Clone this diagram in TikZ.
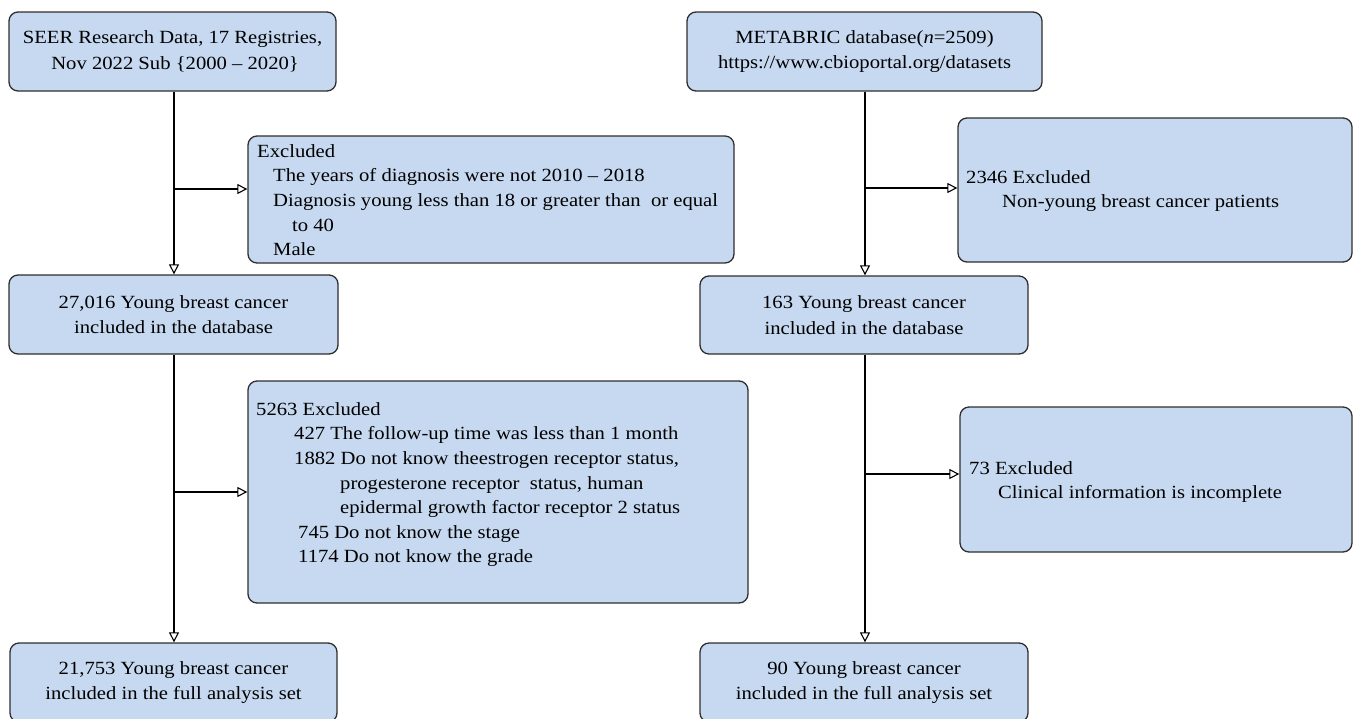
\documentclass[tikz,border=0pt]{standalone}
\usepackage{fontspec}
\setmainfont{Liberation Serif}[FakeStretch=1.11]
\usetikzlibrary{arrows.meta}
\definecolor{boxfill}{HTML}{C6D9F0}
\definecolor{boxline}{HTML}{2E2E2E}
\tikzset{
  box/.style={draw=boxline, line width=1.3pt, fill=boxfill, rounded corners=9pt,
    inner sep=0pt, align=center, font=\fontsize{18.6}{25.5}\selectfont},
  txt/.style={anchor=north west, inner sep=0pt, align=left, font=\fontsize{18.6}{24.6}\selectfont},
  conn/.style={line width=2pt, draw=black},
  arr/.style={conn, -{Triangle[open, length=10pt, width=10pt, line width=1.1pt]}}
}
\begin{document}
\begin{tikzpicture}[x=1pt,y=-1pt]
\useasboundingbox (0,0) rectangle (1354,718);
\clip (0,0) rectangle (1354,718);
% boxes
\node[box, minimum width=327pt, minimum height=79pt] (b1) at (172.5,51.5)
  {SEER Research Data, 17 Registries,\\ \ Nov 2022 Sub \{2000 – 2020\}};
\node[box, minimum width=486pt, minimum height=127pt] (b2) at (491,199.5) {};
\node[box, minimum width=329pt, minimum height=79pt] (b3) at (173.5,314.5)
  {27,016 Young breast cancer\\included in the database};
\node[box, minimum width=500pt, minimum height=222pt] (b4) at (498,492) {};
\node[box, minimum width=327pt, minimum height=79pt] (b5) at (173.5,682.5)
  {21,753 Young breast cancer\\included in the full analysis set};
\node[box, minimum width=355pt, minimum height=79pt] (b6) at (864.5,51.5)
  {METABRIC database(\textit{n}=2509)\\https://www.cbioportal.org/datasets};
\node[box, minimum width=394pt, minimum height=144pt] (b7) at (1155,190) {};
\node[box, minimum width=328pt, minimum height=78pt] (b8) at (864,315)
  {163 Young breast cancer\\included in the database};
\node[box, minimum width=392pt, minimum height=145pt] (b9) at (1156,479.5) {};
\node[box, minimum width=328pt, minimum height=79pt] (b10) at (864,682.5)
  {90 Young breast cancer\\included in the full analysis set};
% left-aligned texts
\node[txt] (t2) at (257,139.8) {\strut Excluded\\
  \hspace*{16pt}The years of diagnosis were not 2010 – 2018\\
  \hspace*{16pt}Diagnosis young less than 18 or greater than\ \ or equal\\
  \hspace*{35pt}to 40\\
  \hspace*{16pt}Male};
\node[txt] (t4) at (256,397.8) {\strut 5263 Excluded\\
  \hspace*{38pt}427 The follow-up time was less than 1 month\\
  \hspace*{38pt}1882 Do not know theestrogen receptor status,\\
  \hspace*{84pt}progesterone receptor\ \ status, human\\
  \hspace*{84pt}epidermal growth factor receptor 2 status\\
  \hspace*{42pt}745 Do not know the stage\\
  \hspace*{42pt}1174 Do not know the grade};
\node[txt] (t7) at (966,165.8) {\strut 2346 Excluded\\
  \hspace*{36pt}Non-young breast cancer patients};
\node[txt] (t9) at (969,456.8) {\strut 73 Excluded\\
  \hspace*{29pt}Clinical information is incomplete};
% connectors
\coordinate (L) at (174,0);
\coordinate (R) at (865,0);
\coordinate (j1) at (174,189);
\coordinate (j2) at (174,492);
\coordinate (j3) at (865,188);
\coordinate (j4) at (865,474);
\draw[arr] (b1.south -| L) -- (b3.north -| L);
\draw[arr] (b3.south -| L) -- (b5.north -| L);
\draw[arr] (b6.south -| R) -- (b8.north -| R);
\draw[arr] (b8.south -| R) -- (b10.north -| R);
\draw[arr] (j1) -- (j1 -| b2.west);
\draw[arr] (j2) -- (j2 -| b4.west);
\draw[arr] (j3) -- (j3 -| b7.west);
\draw[arr] (j4) -- (j4 -| b9.west);
\end{tikzpicture}
\end{document}
